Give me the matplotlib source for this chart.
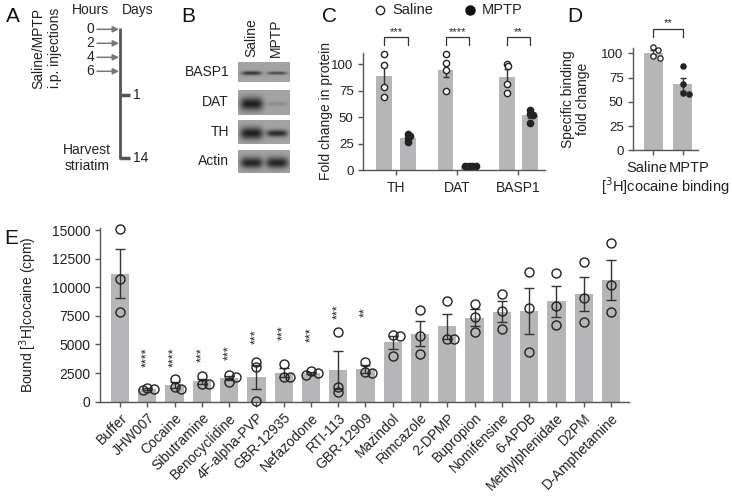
import numpy as np
import matplotlib.pyplot as plt

plt.rcParams['font.family'] = ['Liberation Sans', 'DejaVu Sans']
plt.rcParams['font.size'] = 10
plt.rcParams['text.color'] = '#222222'
plt.rcParams['axes.labelcolor'] = '#222222'
plt.rcParams['xtick.labelcolor'] = '#222222'
plt.rcParams['ytick.labelcolor'] = '#222222'

# ---- data ----
# A: timeline
inj_hours = ["0", "2", "4", "6"]
harvest_days = ["1", "14"]

# B: western blot (band darkness and thickness per lane)
blot_proteins = ["BASP1", "DAT", "TH", "Actin"]
blot_lanes = ["Saline", "MPTP"]
blot_int_saline = [0.85, 1.0, 1.0, 0.95]
blot_int_mptp = [0.70, 0.18, 0.92, 0.95]
blot_thick_saline = [4.0, 13.0, 12.0, 11.0]
blot_thick_mptp = [3.0, 4.0, 7.0, 11.0]

# C: fold change in protein
c_groups = ["TH", "DAT", "BASP1"]
c_saline = [[109.4, 99.4, 78.3, 68.9], [109.4, 101.0, 94.7, 74.8], [100.6, 98.4, 81.8, 72.6]]
c_mptp = [[34.0, 32.4, 30.0, 27.0], [4.3, 3.8, 3.6, 4.0], [57.0, 53.0, 52.5, 45.0]]
c_sig = ["***", "****", "**"]

# D: specific binding
d_groups = ["Saline", "MPTP"]
d_values = [[106.5, 103.5, 97.0, 95.5], [86.5, 68.0, 59.0, 58.0]]
d_sig = "**"

# E: bound [3H]cocaine
e_drugs = ["Buffer", "JHW007", "Cocaine", "Sibutramine", "Benocyclidine", "4F-alpha-PVP",
           "GBR-12935", "Nefazodone", "RTI-113", "GBR-12909", "Mazindol", "Rimcazole",
           "2-DPMP", "Bupropion", "Nomifensine", "6-APDB", "Methylphenidate", "D2PM",
           "D-Amphetamine"]
e_values = [[15100, 10700, 7800], [1200, 1100, 1000], [1950, 1300, 1150], [2270, 1540, 1510],
            [2350, 2180, 1690], [3460, 2990, 30], [3280, 2180, 2150], [2700, 2530, 2350],
            [6100, 1310, 870], [3490, 2620, 2470], [5840, 5700, 4010], [7990, 5700, 4160],
            [8780, 5490, 5490], [8550, 7410, 6080], [9420, 7910, 6310], [11310, 8200, 4330],
            [11220, 8400, 6660], [12180, 9070, 7000], [13870, 10230, 7880]]
e_sig = ["", "****", "****", "***", "***", "***", "***", "***", "***", "**"]
e_sig_y = [0, 3000, 3000, 3500, 3650, 5000, 5400, 5250, 7200, 7400]

BAR = '#b6b6b8'
DARK = '#333333'
SPINE = '#555555'
W, H = 732, 497


def rect(l, t, r, b):
    return [l / W, 1 - b / H, (r - l) / W, (b - t) / H]


def swarm(vals, ypx, diam):
    placed = []
    offs = []
    for v in vals:
        y = v * ypx
        cands = [0.0]
        for i in range(1, 30):
            cands += [i * diam * 0.45, -i * diam * 0.45]
        for c in cands:
            if all((c - px) ** 2 + (y - py) ** 2 >= diam ** 2 for px, py in placed):
                break
        placed.append((c, y))
        offs.append(c)
    return np.array(offs)


def sem(v):
    v = np.asarray(v, float)
    return v.std(ddof=1) / np.sqrt(len(v))


def style(ax, size=10):
    for s in ['top', 'right']:
        ax.spines[s].set_visible(False)
    for s in ['left', 'bottom']:
        ax.spines[s].set_color(SPINE)
        ax.spines[s].set_linewidth(1.0)
    ax.tick_params(direction='out', length=3.5, width=1, color=SPINE, labelsize=size)


fig = plt.figure(figsize=(W / 100, H / 100), dpi=100)

# background axes in pixel coordinates
bg = fig.add_axes([0, 0, 1, 1])
bg.set_xlim(0, W)
bg.set_ylim(H, 0)
bg.axis('off')

for lab, x, y in [("A", 6, 17), ("B", 181, 17), ("C", 322, 17), ("D", 567, 17), ("E", 4, 238)]:
    bg.text(x, y, lab, fontsize=15, ha='left', va='center', color='#111111')

# ---- A ----
bg.text(90, 10, "Hours", ha='center', va='center', fontsize=10)
bg.text(138, 10, "Days", ha='center', va='center', fontsize=10)
bg.plot([120, 120], [28, 159], color=SPINE, lw=2, solid_capstyle='butt')
for i, h in enumerate(inj_hours):
    y = 29.3 + i * 14
    bg.annotate('', xy=(119, y), xytext=(97, y),
                arrowprops=dict(arrowstyle='-|>', color='#777777', lw=1.1,
                                mutation_scale=9, shrinkA=0, shrinkB=0))
    bg.text(94, y, h, ha='right', va='center', fontsize=10)
for d, y in zip(harvest_days, [95, 158]):
    bg.plot([120, 130], [y, y], color=SPINE, lw=2.5, solid_capstyle='butt')
    bg.text(133, y, d, ha='left', va='center', fontsize=10)
bg.text(87, 158, "Harvest\nstriatim", ha='center', va='center', fontsize=10, linespacing=1.25)
bg.text(47, 8, "Saline/MPTP\ni.p. injections", rotation=90, ha='center', va='top',
        multialignment='right', fontsize=10, linespacing=1.25)

# ---- B ----
rows = [(62, 82), (90, 115), (120, 144), (150, 173)]
label_y = [72, 102, 132, 161]
bx0, bx1 = 238, 290
for k, prot in enumerate(blot_proteins):
    t, b = rows[k]
    w, h = bx1 - bx0, b - t
    sc = 4
    ys, xs = np.mgrid[0:h * sc, 0:w * sc] / sc
    dark = np.zeros_like(xs)
    for lx, inten, th in [(13.5, blot_int_saline[k], blot_thick_saline[k]),
                          (39.0, blot_int_mptp[k], blot_thick_mptp[k])]:
        hw = 9.5 + th * 0.15
        g = np.exp(-np.abs((xs - lx) / hw) ** 4) * np.exp(-((ys - h * 0.55) / (th / 2.0)) ** 2)
        dark += inten * g
    img = 0.64 - 0.52 * np.clip(dark, 0, 1)
    bg.imshow(img, extent=(bx0, bx1, b, t), cmap='gray', vmin=0, vmax=1,
              interpolation='bilinear', aspect='auto')
    bg.text(229, label_y[k], prot, ha='right', va='center', fontsize=10)
for lane, x in zip(blot_lanes, [251, 276]):
    bg.text(x, 57, lane, rotation=90, ha='center', va='bottom', fontsize=10)
bg.set_xlim(0, W)
bg.set_ylim(H, 0)

# ---- C ----
axc = fig.add_axes(rect(363.3, 52.6, 545, 170.3))
style(axc, 9.5)
axc.set_ylim(0, 111)
axc.set_xlim(-0.536, 2.438)
off, bw = 0.19, 0.26
xpx, ypx = 61.0, 1.06
for i in range(len(c_groups)):
    for vals, sgn, filled in [(c_saline[i], -1, False), (c_mptp[i], 1, True)]:
        x = i + sgn * off
        m = np.mean(vals)
        axc.bar(x, m, width=bw, color=BAR, zorder=1)
        axc.errorbar(x, m, yerr=sem(vals), fmt='none', ecolor=DARK, elinewidth=1,
                     capsize=2.5, capthick=1, zorder=2)
        jx = x + swarm(vals, ypx, 2.5) / xpx
        axc.plot(jx, vals, 'o', ms=4.5, mec='#222222', mew=1.0,
                 mfc='#222222' if filled else 'white', ls='none', zorder=3, clip_on=False)
    x0, x1 = i - off, i + off
    axc.plot([x0, x0, x1, x1], [118, 126, 126, 118], color=DARK, lw=0.9, clip_on=False)
    axc.text(i, 127.3, c_sig[i], ha='center', va='baseline', fontsize=8)
axc.set_yticks([0, 25, 50, 75, 100])
axc.set_xticks(range(len(c_groups)))
axc.set_xticklabels(c_groups, fontsize=10)
axc.tick_params(axis='x', pad=4)
axc.set_ylabel("Fold change in protein", fontsize=10)
axc.yaxis.set_label_coords(-0.165, 0.5)
# legend
bg.plot([380], [10], 'o', ms=6, mfc='white', mec='#222222', mew=1)
bg.text(392, 10, "Saline", ha='left', va='center', fontsize=10.5)
bg.plot([470], [10], 'o', ms=6.5, mfc='#111111', mec='#111111')
bg.text(482, 10, "MPTP", ha='left', va='center', fontsize=10.5)

# ---- D ----
axd = fig.add_axes(rect(633.3, 48, 698, 150.3))
style(axd, 9.5)
axd.set_ylim(0, 105.5)
axd.set_xlim(-0.68, 1.52)
for i, vals in enumerate(d_values):
    m = np.mean(vals)
    axd.bar(i, m, width=0.66, color=BAR, zorder=1)
    axd.errorbar(i, m, yerr=sem(vals), fmt='none', ecolor=DARK, elinewidth=1,
                 capsize=2.5, capthick=1, zorder=2)
    jx = i + swarm(vals, 0.97, 5.0) / 29.4
    axd.plot(jx, vals, 'o', ms=3.8, mec='#222222', mew=0.9,
             mfc='#222222' if i == 1 else 'white', ls='none', zorder=3, clip_on=False)
axd.plot([0, 0, 1, 1], [117, 125, 125, 117], color=DARK, lw=0.9, clip_on=False)
axd.text(0.5, 128, d_sig, ha='center', va='baseline', fontsize=8)
axd.set_yticks([0, 25, 50, 75, 100])
axd.set_xticks([0, 1])
axd.set_xticklabels([])
xt = axd.get_xaxis_transform()
axd.text(0.5 - 0.03, -0.1, d_groups[0], transform=xt, ha='right', va='top', fontsize=10.5)
axd.text(0.5 + 0.03, -0.1, d_groups[1], transform=xt, ha='left', va='top', fontsize=10.5)
axd.set_ylabel("Specific binding\nfold change", fontsize=10, linespacing=1.1)
axd.yaxis.set_label_coords(-0.669, 0.5)
axd.set_xlabel("[$^{3}$H]cocaine binding", fontsize=10.5, labelpad=11)

# ---- E ----
axe = fig.add_axes(rect(100, 228.3, 629, 401.7))
style(axe)
axe.set_ylim(0, 15150)
axe.set_xlim(-0.733, 18.66)
for i, vals in enumerate(e_values):
    m = np.mean(vals)
    axe.bar(i, m, width=0.67, color=BAR, zorder=1)
    axe.errorbar(i, m, yerr=sem(vals), fmt='none', ecolor=DARK, elinewidth=1,
                 capsize=3.6, capthick=1, zorder=2)
    jx = i + swarm(vals, 0.011447, 5.0) / 27.28
    axe.plot(jx, vals, 'o', ms=6.5, mec='#222222', mew=1.0, mfc='none',
             ls='none', zorder=3, clip_on=False)
for i, (s, y) in enumerate(zip(e_sig, e_sig_y)):
    if s:
        axe.text(i, y, s, rotation=90, ha='center', va='bottom', fontsize=9)
axe.set_yticks([0, 2500, 5000, 7500, 10000, 12500, 15000])
axe.set_xticks(range(len(e_drugs)))
axe.set_xticklabels(e_drugs, rotation=45, ha='right', rotation_mode='anchor', fontsize=10)
axe.tick_params(axis='x', pad=3)
axe.set_ylabel("Bound [$^{3}$H]cocaine (cpm)", fontsize=10)
axe.yaxis.set_label_coords(-0.115, 0.5)

fig.savefig("out.png", dpi=100)
